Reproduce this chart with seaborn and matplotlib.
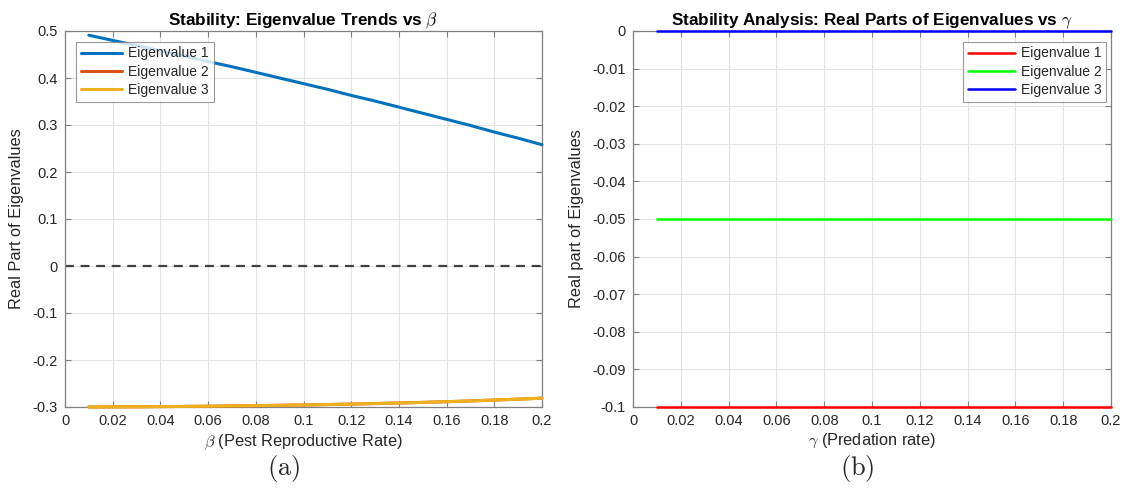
import numpy as np
import pandas as pd
import matplotlib
matplotlib.use("Agg")
import matplotlib.pyplot as plt
import seaborn as sns

# Parameter sweeps
beta = [0.01, 0.02, 0.03, 0.04, 0.05, 0.06, 0.07, 0.08, 0.09, 0.10,
        0.11, 0.12, 0.13, 0.14, 0.15, 0.16, 0.17, 0.18, 0.19, 0.20]
gamma = [0.01, 0.02, 0.03, 0.04, 0.05, 0.06, 0.07, 0.08, 0.09, 0.10,
         0.11, 0.12, 0.13, 0.14, 0.15, 0.16, 0.17, 0.18, 0.19, 0.20]

# Real parts of the eigenvalues along the beta sweep
beta_eig1 = [0.491, 0.480, 0.469, 0.458, 0.447, 0.435, 0.424, 0.412, 0.400, 0.388,
             0.376, 0.363, 0.351, 0.338, 0.325, 0.312, 0.299, 0.285, 0.272, 0.258]
beta_eig2 = [-0.3000, -0.2998, -0.2996, -0.2992, -0.2988, -0.2983, -0.2977, -0.2971, -0.2964, -0.2957,
             -0.2948, -0.2938, -0.2927, -0.2915, -0.2902, -0.2887, -0.2871, -0.2852, -0.2833, -0.2812]
beta_eig3 = list(beta_eig2)

# Real parts of the eigenvalues along the gamma sweep
gamma_eig1 = [-0.1] * 20
gamma_eig2 = [-0.05] * 20
gamma_eig3 = [0.0] * 20

ev_labels = ["Eigenvalue 1", "Eigenvalue 2", "Eigenvalue 3"]
beta_colors = ["#0072BD", "#D95319", "#EDB120"]
gamma_colors = ["#FF0000", "#00FF00", "#0000FF"]

x_ticks = [0, 0.02, 0.04, 0.06, 0.08, 0.1, 0.12, 0.14, 0.16, 0.18, 0.2]
beta_yticks = [-0.3, -0.2, -0.1, 0, 0.1, 0.2, 0.3, 0.4, 0.5]
gamma_yticks = [-0.1, -0.09, -0.08, -0.07, -0.06, -0.05, -0.04, -0.03, -0.02, -0.01, 0]

sns.set_theme(style="white")
plt.rcParams["font.family"] = ["Liberation Sans", "DejaVu Sans"]
plt.rcParams["mathtext.fontset"] = "cm"
plt.rcParams["axes.unicode_minus"] = False

df_beta = pd.DataFrame({
    "x": beta * 3,
    "y": beta_eig1 + beta_eig2 + beta_eig3,
    "ev": [ev_labels[0]] * 20 + [ev_labels[1]] * 20 + [ev_labels[2]] * 20,
})
df_gamma = pd.DataFrame({
    "x": gamma * 3,
    "y": gamma_eig1 + gamma_eig2 + gamma_eig3,
    "ev": [ev_labels[0]] * 20 + [ev_labels[1]] * 20 + [ev_labels[2]] * 20,
})

fig = plt.figure(figsize=(11.33, 4.93), dpi=100)
ax1 = fig.add_axes([65 / 1133, 1 - 407 / 493, 477 / 1133, 376 / 493])
ax2 = fig.add_axes([633 / 1133, 1 - 407 / 493, 478 / 1133, 376 / 493])

txt = "#262626"
spine_c = "#808080"


def style_axes(ax, yticks):
    ax.set_xticks(x_ticks)
    ax.set_xticklabels([f"{v:g}" for v in x_ticks])
    ax.set_yticks(yticks)
    ax.set_yticklabels([f"{v:g}" for v in yticks])
    ax.grid(True, color="#e3e3e3", lw=0.8)
    ax.set_axisbelow(True)
    for s in ax.spines.values():
        s.set_color(spine_c)
        s.set_linewidth(0.9)
    ax.tick_params(direction="in", length=4, width=0.8, color=spine_c,
                   top=True, right=True, bottom=True, left=True,
                   labelsize=10.5, labelcolor=txt, pad=5)


# (a) beta sweep
ax1.axhline(0, ls=(0, (4, 3)), color="#404040", lw=1.6, zorder=1)
sns.lineplot(data=df_beta, x="x", y="y", hue="ev", palette=beta_colors,
             linewidth=2.2, ax=ax1, legend=False, zorder=3)
ax1.set_xlim(0, 0.2)
ax1.set_ylim(-0.3, 0.5)
style_axes(ax1, beta_yticks)
for ln in ax1.get_lines()[1:]:
    ln.set_clip_on(False)
ax1.set_title(r"Stability: Eigenvalue Trends vs $\beta$", fontsize=12.3,
              fontweight="bold", color="black", pad=4)
ax1.set_xlabel(r"$\beta$ (Pest Reproductive Rate)", fontsize=11.8, color=txt, labelpad=3)
ax1.set_ylabel("Real Part of Eigenvalues", fontsize=11.8, color=txt, labelpad=6)
h1 = [plt.Line2D([], [], color=c, lw=2.2) for c in beta_colors]
leg1 = ax1.legend(h1, ev_labels, loc="upper left", bbox_to_anchor=(0.023, 0.972),
                  fontsize=10, frameon=True, fancybox=False, handlelength=3.0,
                  borderpad=0.35, labelspacing=0.32, handletextpad=0.4,
                  borderaxespad=0)
leg1.get_frame().set_edgecolor("#808080")
leg1.get_frame().set_linewidth(0.8)

# (b) gamma sweep
sns.lineplot(data=df_gamma, x="x", y="y", hue="ev", palette=gamma_colors,
             linewidth=1.8, ax=ax2, legend=False, zorder=3)
ax2.set_xlim(0, 0.2)
ax2.set_ylim(-0.1, 0)
style_axes(ax2, gamma_yticks)
for ln in ax2.get_lines():
    ln.set_clip_on(False)
ax2.set_title(r"Stability Analysis: Real Parts of Eigenvalues vs $\gamma$", fontsize=12.3,
              fontweight="bold", color="black", pad=4)
ax2.set_xlabel(r"$\gamma$ (Predation rate)", fontsize=11.8, color=txt, labelpad=3)
ax2.set_ylabel("Real part of Eigenvalues", fontsize=11.8, color=txt, labelpad=6)
h2 = [plt.Line2D([], [], color=c, lw=1.8) for c in gamma_colors]
leg2 = ax2.legend(h2, ev_labels, loc="upper right", bbox_to_anchor=(0.99, 0.972),
                  fontsize=10, frameon=True, fancybox=False, handlelength=3.4,
                  borderpad=0.35, labelspacing=0.32, handletextpad=0.4,
                  borderaxespad=0)
leg2.get_frame().set_edgecolor("#808080")
leg2.get_frame().set_linewidth(0.8)

# Panel captions
fig.text(284 / 1133, 1 - 468 / 493, r"$\mathrm{(a)}$", fontsize=19, ha="center", va="center")
fig.text(857 / 1133, 1 - 468 / 493, r"$\mathrm{(b)}$", fontsize=19, ha="center", va="center")

fig.savefig("out.png", dpi=100, facecolor="white")
